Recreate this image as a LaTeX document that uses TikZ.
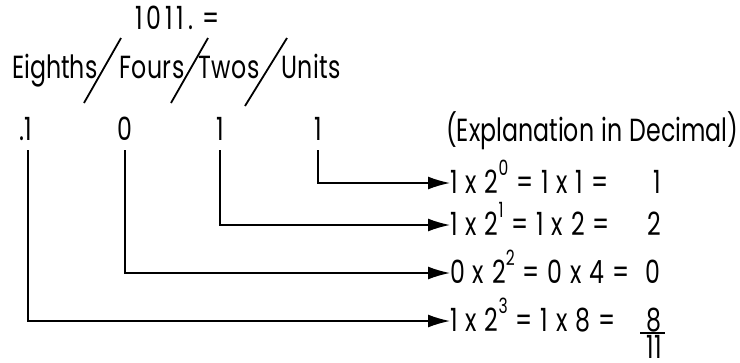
\documentclass[tikz,border=0pt]{standalone}
\usepackage{fontspec}
\setmainfont[FakeStretch=0.74,WordSpace=1.15]{Poppins}
\newfontfamily\eqfont[FakeStretch=0.74,WordSpace=1.25]{Poppins}
\usetikzlibrary{arrows.meta}
\newcommand\spw[1]{\raisebox{18pt}{\fontsize{21}{21}\selectfont #1}}
\begin{document}
\begin{tikzpicture}[x=1pt,y=-1pt,
  txt/.style={font=\fontsize{32}{34}\selectfont, inner sep=0pt},
  wide/.style={font=\fontsize{32}{34}\selectfont\addfontfeature{LetterSpace=1.5}},
  wider/.style={font=\fontsize{32}{34}\selectfont\addfontfeature{LetterSpace=12}},
  eq/.style={font=\eqfont\fontsize{32}{34}\selectfont},
  conn/.style={line width=1.6pt, -{Latex[length=22pt,width=13pt]}},
  slashline/.style={line width=1.8pt},
  barline/.style={line width=1.6pt}]
\useasboundingbox (0,0) rectangle (740,362);
% header
\node[txt, wider, anchor=base west] (top) at (135,29) {1011.\hspace{9pt}=};
\node[txt, anchor=base west] (h1) at (12,78) {Eighths};
\node[txt, wide, anchor=base west] (h2) at (119,78) {Fours};
\node[txt, wide, anchor=base west] (h3) at (198,78) {Twos};
\node[txt, wide, anchor=base west] (h4) at (281,78) {Units};
\draw[slashline] (84,103) -- (121,38);
\draw[slashline] (171,103) -- (208,38);
\draw[slashline] (245,106) -- (287,38);
% digits
\node[txt, anchor=base] (d1) at (28,140) {\llap{.}1};
\node[txt, anchor=base] (d2) at (125,140) {0};
\node[txt, anchor=base] (d3) at (220,140) {1};
\node[txt, anchor=base] (d4) at (318,140) {1};
\node[txt, anchor=base west] (expl) at (446,141) {(Explanation in Decimal)};
% equations
\node[txt, eq, anchor=base west] (e1) at (450,193) {1 x 2\spw{0} = 1 x 1 =};
\node[txt, eq, anchor=base west] (e2) at (450,235) {1 x 2\spw{1} = 1 x 2 =};
\node[txt, eq, anchor=base west] (e3) at (450,283) {0 x 2\spw{2} = 0 x 4 =};
\node[txt, eq, anchor=base west] (e4) at (450,331) {1 x 2\spw{3} = 1 x 8 =};
\node[txt, anchor=base east] (r1) at (661,193) {1};
\node[txt, anchor=base east] (r2) at (661,235) {2};
\node[txt, anchor=base east] (r3) at (661,283) {0};
\node[txt, anchor=base east] (r4) at (662,331) {8};
\node[txt, anchor=base east] (r5) at (662,358) {11};
\draw[barline] ([xshift=-6pt,yshift=1.5pt]r5.north west) -- ([xshift=3pt,yshift=1.5pt]r5.north east);
% connectors
\draw[conn] ([yshift=-10pt]d4.south) |- ([yshift=10pt]e1.base west);
\draw[conn] ([yshift=-10pt]d3.south) |- ([yshift=10pt]e2.base west);
\draw[conn] ([yshift=-10pt]d2.south) |- ([yshift=10pt]e3.base west);
\draw[conn] ([yshift=-10pt]d1.south) |- ([yshift=10pt]e4.base west);
\end{tikzpicture}
\end{document}
